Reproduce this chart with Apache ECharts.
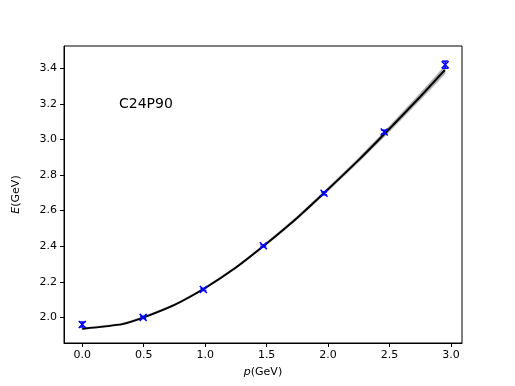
<!DOCTYPE html>
<html>
<head>
<meta charset="utf-8">
<script src="https://cdn.jsdelivr.net/npm/echarts@6/dist/echarts.min.js"></script>
<style>
  html, body { margin: 0; padding: 0; background: #fff; }
  #main { width: 515px; height: 386px; }
</style>
</head>
<body>
<div id="main"></div>
<script>
// measured points (p, E) with small error bars
var pointP = [0.0, 0.495, 0.985, 1.473, 1.967, 2.457, 2.953];
var pointE = [1.960, 2.000, 2.157, 2.402, 2.697, 3.042, 3.420];
var pointErr = [0.014, 0.006, 0.006, 0.006, 0.008, 0.010, 0.020];

// fitted curve and its band
var curveP = [0.0, 0.325, 0.5, 0.75, 1.0, 1.25, 1.5, 1.75, 2.0, 2.25, 2.5, 2.75, 2.95];
var curveE = [1.936, 1.962, 2.0, 2.07, 2.165, 2.28, 2.415, 2.56, 2.72, 2.885, 3.06, 3.24, 3.39];
var bandHalf = [0.002, 0.002, 0.002, 0.002, 0.003, 0.003, 0.004, 0.005, 0.007, 0.009, 0.012, 0.016, 0.02];

var xTicks = [0.0, 0.5, 1.0, 1.5, 2.0, 2.5, 3.0];
var yTicks = [2.0, 2.2, 2.4, 2.6, 2.8, 3.0, 3.2, 3.4];

var myChart = echarts.init(document.getElementById('main'));

var curveData = curveP.map(function (p, i) { return [p, curveE[i]]; });
var bandData = curveP.map(function (p, i) { return [p, curveE[i] - bandHalf[i], curveE[i] + bandHalf[i]]; });
var pointData = pointP.map(function (p, i) { return [p, pointE[i], pointErr[i]]; });

var tickFont = { fontFamily: 'DejaVu Sans', fontSize: 11, color: '#000' };

var option = {
    animation: false,
    backgroundColor: '#fff',
    grid: {
        left: 64, right: 53, top: 46, bottom: 43,
        show: true, borderColor: '#000', borderWidth: 1, backgroundColor: 'transparent'
    },
    xAxis: {
        type: 'value',
        min: -0.149, max: 3.09,
        splitLine: { show: false },
        axisLine: { show: true, onZero: false, lineStyle: { color: '#000', width: 1 } },
        axisTick: { show: true, customValues: xTicks, length: 4, lineStyle: { color: '#000' } },
        axisLabel: Object.assign({ customValues: xTicks, margin: 7, formatter: function (v) { return v.toFixed(1); } }, tickFont),
        name: '{i|p}(GeV)',
        nameLocation: 'middle',
        nameGap: 24,
        nameTextStyle: {
            fontFamily: 'DejaVu Sans', fontSize: 11, color: '#000',
            rich: { i: { fontStyle: 'italic', fontFamily: 'DejaVu Sans', fontSize: 11, color: '#000' } }
        }
    },
    yAxis: {
        type: 'value',
        min: 1.856, max: 3.525,
        splitLine: { show: false },
        axisLine: { show: true, onZero: false, lineStyle: { color: '#000', width: 1 } },
        axisTick: { show: true, customValues: yTicks, length: 4, lineStyle: { color: '#000' } },
        axisLabel: Object.assign({ customValues: yTicks, margin: 7, formatter: function (v) { return v.toFixed(1); } }, tickFont),
        name: '{i|E}(GeV)',
        nameLocation: 'middle',
        nameGap: 42,
        nameRotate: 90,
        nameTextStyle: {
            fontFamily: 'DejaVu Sans', fontSize: 11, color: '#000',
            rich: { i: { fontStyle: 'italic', fontFamily: 'DejaVu Sans', fontSize: 11, color: '#000' } }
        }
    },
    graphic: [{
        type: 'text',
        left: 119, top: 97,
        style: { text: 'C24P90', fontFamily: 'DejaVu Sans', fontSize: 14, fill: '#000' }
    }],
    series: [
        {
            // gray uncertainty band
            type: 'custom',
            data: bandData,
            encode: { x: 0, y: [1, 2] },
            renderItem: function (params, api) {
                if (params.dataIndex !== 0) return;
                var upper = [], lower = [];
                for (var i = 0; i < bandData.length; i++) {
                    upper.push(api.coord([bandData[i][0], bandData[i][2]]));
                    lower.unshift(api.coord([bandData[i][0], bandData[i][1]]));
                }
                return {
                    type: 'polygon',
                    shape: { points: upper.concat(lower) },
                    style: { fill: 'rgba(150,150,150,0.55)', stroke: 'rgba(150,150,150,0.55)', lineWidth: 1.5 }
                };
            },
            z: 1
        },
        {
            type: 'line',
            data: curveData,
            smooth: 0.2,
            showSymbol: false,
            lineStyle: { color: '#000', width: 2 },
            z: 2
        },
        {
            // blue x markers with vertical error bars
            type: 'custom',
            data: pointData,
            encode: { x: 0, y: 1 },
            renderItem: function (params, api) {
                var p = api.value(0), e = api.value(1), err = api.value(2);
                var c = api.coord([p, e]);
                var top = api.coord([p, e + err]);
                var bot = api.coord([p, e - err]);
                var s = 3.5;
                var st = { stroke: '#0000ff', lineWidth: 1.5 };
                return {
                    type: 'group',
                    children: [
                        { type: 'line', shape: { x1: c[0] - s, y1: c[1] - s, x2: c[0] + s, y2: c[1] + s }, style: st },
                        { type: 'line', shape: { x1: c[0] - s, y1: c[1] + s, x2: c[0] + s, y2: c[1] - s }, style: st },
                        { type: 'line', shape: { x1: top[0], y1: top[1], x2: bot[0], y2: bot[1] }, style: st },
                        { type: 'line', shape: { x1: top[0] - 3, y1: top[1], x2: top[0] + 3, y2: top[1] }, style: st },
                        { type: 'line', shape: { x1: bot[0] - 3, y1: bot[1], x2: bot[0] + 3, y2: bot[1] }, style: st }
                    ]
                };
            },
            z: 3
        }
    ]
};

myChart.setOption(option);
</script>
</body>
</html>
